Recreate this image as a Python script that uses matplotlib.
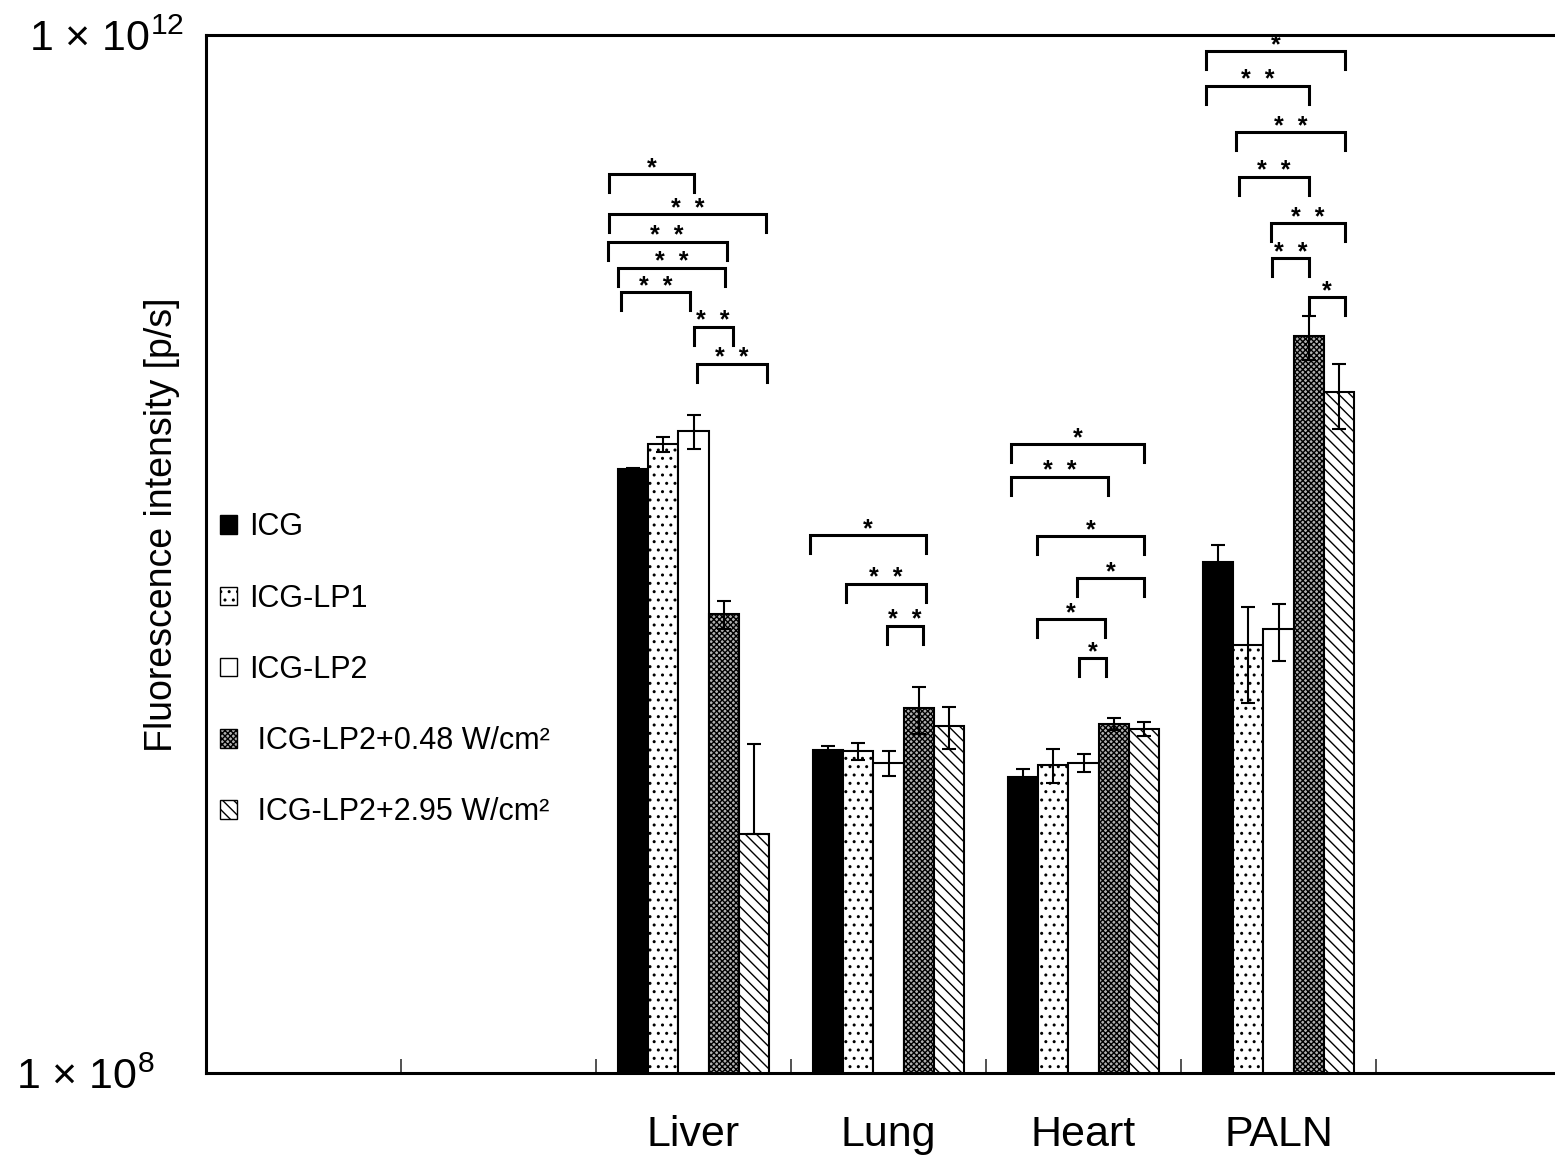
import numpy as np
import matplotlib
matplotlib.use("Agg")
import matplotlib.pyplot as plt
from matplotlib.patches import Patch

plt.rcParams["font.family"] = ["Liberation Sans", "DejaVu Sans"]
plt.rcParams["mathtext.fontset"] = "custom"
plt.rcParams["mathtext.rm"] = "Liberation Sans"
plt.rcParams["hatch.linewidth"] = 1.0

# data
organs = ["Liver", "Lung", "Heart", "PALN"]
series = ["ICG", "ICG-LP1", "ICG-LP2", "ICG-LP2+0.48 W/cm²", "ICG-LP2+2.95 W/cm²"]

icg = [2.13e10, 1.76e9, 1.38e9, 9.29e9]
icg_lp1 = [2.65e10, 1.74e9, 1.54e9, 4.45e9]
icg_lp2 = [2.98e10, 1.57e9, 1.57e9, 5.14e9]
lp2_048 = [5.87e9, 2.54e9, 2.21e9, 6.92e10]
lp2_295 = [8.34e8, 2.17e9, 2.12e9, 4.21e10]

sd_icg = [2e8, 6.3e7, 1.0e8, 1.51e9]
sd_lp1 = [1.7e9, 1.28e8, 2.3e8, 1.78e9]
sd_lp2 = [4.5e9, 1.76e8, 1.3e8, 1.27e9]
sd_048 = [7.2e8, 5.2e8, 1.2e8, 1.34e10]
sd_295 = [1.02e9, 4.0e8, 1.26e8, 1.19e10]

# significance brackets: (organ index, from bar, to bar, height, label)
brackets = [
    (0, -0.8, 2.0, 2.91e11, "*"),
    (0, -0.8, 4.4, 2.04e11, "*  *"),
    (0, -0.85, 3.1, 1.60e11, "*  *"),
    (0, -0.5, 3.05, 1.27e11, "*  *"),
    (0, -0.4, 1.9, 1.02e11, "*  *"),
    (0, 2.0, 3.3, 7.50e10, "*  *"),
    (0, 2.1, 4.45, 5.41e10, "*  *"),
    (1, -0.6, 3.25, 1.18e10, "*"),
    (1, 0.6, 3.25, 7.66e9, "*  *"),
    (1, 1.95, 3.15, 5.28e9, "*  *"),
    (2, -0.4, 4.0, 2.65e10, "*"),
    (2, -0.4, 2.8, 1.98e10, "*  *"),
    (2, 0.45, 4.0, 1.17e10, "*"),
    (2, 1.8, 4.0, 8.06e9, "*"),
    (2, 0.45, 2.7, 5.60e9, "*"),
    (2, 1.85, 2.75, 3.96e9, "*"),
    (3, -0.4, 4.2, 8.70e11, "*"),
    (3, -0.4, 3.0, 6.36e11, "*  *"),
    (3, 0.6, 4.2, 4.22e11, "*  *"),
    (3, 0.7, 3.0, 2.84e11, "*  *"),
    (3, 1.75, 4.2, 1.88e11, "*  *"),
    (3, 1.8, 3.0, 1.38e11, "*  *"),
    (3, 3.0, 4.2, 9.80e10, "*"),
]

values = [icg, icg_lp1, icg_lp2, lp2_048, lp2_295]
sds = [sd_icg, sd_lp1, sd_lp2, sd_048, sd_295]
styles = [
    dict(facecolor="black", hatch=None),
    dict(facecolor="white", hatch=".."),
    dict(facecolor="white", hatch=None),
    dict(facecolor="#b0b0b0", hatch="xxxxxx"),
    dict(facecolor="white", hatch="\\\\\\"),
]

fig = plt.figure(figsize=(15.55, 11.6), dpi=100)
ax = fig.add_axes([206 / 1555, 87 / 1160, 1349 / 1555, 1038 / 1160])

centers = np.arange(len(organs)) + 2.5
w = 0.1545

for i in range(len(series)):
    x = centers + (i - 2) * w
    v = np.array(values[i])
    sd = np.array(sds[i])
    ax.bar(x, v, width=w, bottom=0, color=styles[i]["facecolor"], hatch=styles[i]["hatch"],
           edgecolor="black", linewidth=1.5, zorder=2)
    # minus part is not drawn when mean - SD would be <= 0 on the log axis
    lo = np.where(sd < v, sd, 0)
    ax.errorbar(x, v, yerr=[lo, sd], fmt="none", ecolor="black", elinewidth=1.5,
                capsize=5, capthick=1.5, zorder=3)

leg = 10 ** (-18 / 259.5)
for g, b0, b1, y, lab in brackets:
    x0 = centers[g] + (b0 - 2) * w
    x1 = centers[g] + (b1 - 2) * w
    ax.plot([x0, x0, x1, x1], [y * leg, y, y, y * leg], color="black", lw=2.2,
            solid_joinstyle="miter", zorder=4)
    ax.annotate(lab, ((x0 + x1) / 2, y), xytext=(0, -1), textcoords="offset points",
                ha="center", va="baseline", fontsize=18, fontweight="bold")

ax.set_yscale("log")
ax.set_ylim(1e8, 1e12)
ax.set_xlim(0, 1349 / 195)

ax.set_yticks([1e8, 1e12])
ax.set_yticklabels(["1 × 10$^{8}$", "1 × 10$^{12}$"], fontsize=31)
ax.yaxis.set_minor_locator(matplotlib.ticker.NullLocator())
ax.tick_params(axis="y", length=0)
yt = ax.yaxis.get_major_ticks()
yt[0].set_pad(37)
yt[1].set_pad(16)

ax.set_xticks(np.arange(1, 7))
ax.set_xticklabels([])
ax.set_xticks(centers, minor=True)
ax.set_xticklabels(organs, minor=True, fontsize=31)
ax.tick_params(axis="x", which="major", direction="in", length=10, width=1.2, color="#333333")
ax.tick_params(axis="x", which="minor", length=0, pad=30)

ax.spines["right"].set_visible(False)
for s in ["left", "top", "bottom"]:
    ax.spines[s].set_linewidth(2.2)

ax.set_ylabel("Fluorescence intensity [p/s]", fontsize=27)
ax.yaxis.set_label_coords(-0.019, 0.528)

handles = [Patch(facecolor=styles[i]["facecolor"], hatch=styles[i]["hatch"], edgecolor="black",
                 linewidth=1.0) for i in range(len(series))]
labels = [series[0], series[1], series[2], " " + series[3], " " + series[4]]
ax.legend(handles, labels, loc="upper left", bbox_to_anchor=(0.0104, 0.54), frameon=False,
          fontsize=22, handlelength=0.55, handleheight=0.55, handletextpad=0.4,
          labelspacing=1.35, borderpad=0, borderaxespad=0)

fig.savefig("out.png", dpi=100)
